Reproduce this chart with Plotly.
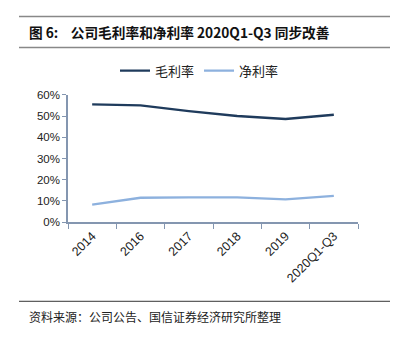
import plotly.graph_objects as go

categories = ["2014", "2016", "2017", "2018", "2019", "2020Q1-Q3"]
gross_margin = [0.555, 0.550, 0.523, 0.500, 0.486, 0.506]
net_margin = [0.083, 0.115, 0.117, 0.117, 0.107, 0.124]
y_ticks = [0, 0.1, 0.2, 0.3, 0.4, 0.5, 0.6]

W, H = 399, 343
def py(px):
    return 1 - px / H
def px_(x):
    return x / W

fig = go.Figure()
fig.add_trace(go.Scatter(x=categories, y=gross_margin, mode="lines", name="毛利率",
                         line=dict(color="#1F3B5C", width=2.3)))
fig.add_trace(go.Scatter(x=categories, y=net_margin, mode="lines", name="净利率",
                         line=dict(color="#8DB1DE", width=2.3)))

axis_color = "#8496B0"
fig.update_layout(
    width=W, height=H,
    margin=dict(l=0, r=0, t=0, b=0),
    paper_bgcolor="white", plot_bgcolor="white",
    showlegend=True,
    legend=dict(orientation="h", x=0.5, xanchor="center", y=py(67), yanchor="middle",
                font=dict(family="Noto Sans CJK SC", size=13, color="#222"),
                itemwidth=30, bgcolor="rgba(0,0,0,0)"),
    xaxis=dict(domain=[px_(68), px_(358)], type="category", range=[-0.5, 5.5],
               showline=True, linecolor=axis_color, linewidth=1.5,
               ticks="outside", tickson="boundaries", ticklen=5, tickcolor=axis_color,
               tickangle=-45, showgrid=False, zeroline=False,
               tickfont=dict(family="Liberation Sans", size=12.5, color="#222")),
    yaxis=dict(domain=[py(224), py(92)], range=[0, 0.6], tickvals=y_ticks,
               tickformat=".0%", showline=True, linecolor=axis_color, linewidth=1.5,
               ticks="outside", ticklen=4, tickcolor=axis_color,
               showgrid=False, zeroline=False,
               tickfont=dict(family="Liberation Sans", size=11.5, color="#222")),
)

# Title lines and text
for yy in (11, 43):
    fig.add_shape(type="line", xref="paper", yref="paper", x0=px_(19), x1=px_(390),
                  y0=py(yy), y1=py(yy), line=dict(color="#888", width=1.5))
fig.add_annotation(xref="paper", yref="paper", x=px_(27), y=py(27), xanchor="left", yanchor="middle",
                   showarrow=False,
                   text="<b>图 6:    公司毛利率和净利率 2020Q1-Q3 同步改善</b>",
                   font=dict(family="Noto Sans CJK SC", size=13.7, color="#111"))
# Footer
fig.add_shape(type="line", xref="paper", yref="paper", x0=px_(19), x1=px_(390),
              y0=py(306), y1=py(306), line=dict(color="#333", width=1))
fig.add_annotation(xref="paper", yref="paper", x=px_(27), y=py(322), xanchor="left", yanchor="middle",
                   showarrow=False, text="资料来源：公司公告、国信证券经济研究所整理",
                   font=dict(family="Noto Sans CJK SC", size=12, color="#222"))

fig.write_html("out.html")
